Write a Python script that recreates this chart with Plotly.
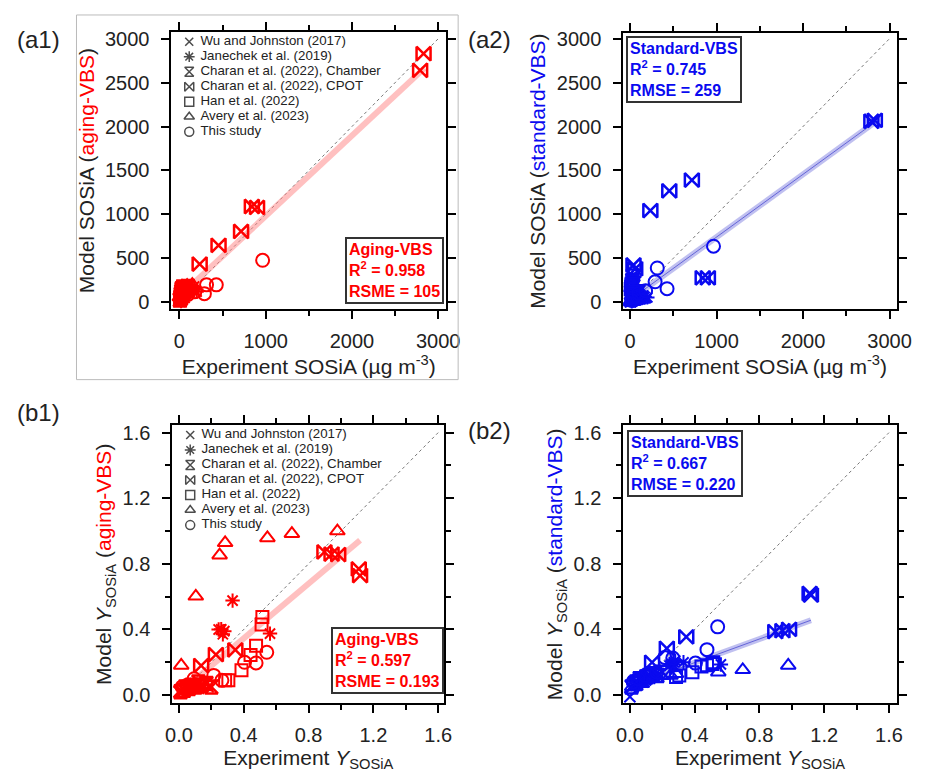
import plotly.graph_objects as go

# ---------------- data ----------------
studies = ["Wu and Johnston (2017)", "Janechek et al. (2019)", "Charan et al. (2022), Chamber",
           "Charan et al. (2022), CPOT", "Han et al. (2022)", "Avery et al. (2023)", "This study"]

# SOSiA mass (ug m-3): experiment, aging-VBS model, standard-VBS model
wu_mass_exp = [3, 8, 12, 18, 25, 32, 45, 60, 75, 95, 120, 150]
wu_mass_aging = [10, 25, 30, 45, 40, 70, 80, 95, 110, 120, 140, 160]
wu_mass_std = [4, 8, 12, 18, 20, 25, 30, 40, 45, 55, 60, 70]

jan_mass_exp = [20, 40, 60, 90, 110, 130, 150, 170, 200]
jan_mass_aging = [15, 30, 50, 110, 130, 140, 150, 180, 120]
jan_mass_std = [10, 20, 25, 40, 50, 60, 70, 60, 55]

chamber_mass_exp = [5, 10, 15, 20, 25, 30, 40, 50, 70, 100]
chamber_mass_aging = [30, 60, 90, 120, 150, 110, 170, 140, 160, 180]
chamber_mass_std = [60, 110, 160, 200, 250, 300, 180, 220, 90, 120]

cpot_mass_exp = [40, 60, 235, 454, 715, 840, 900, 2790, 2830]
cpot_mass_aging = [120, 150, 435, 648, 806, 1090, 1080, 2640, 2830]
cpot_mass_std = [424, 380, 1043, 1268, 1391, 278, 278, 2060, 2070]

han_mass_exp = [8, 12, 18, 25, 30, 35, 45]
han_mass_aging = [20, 40, 60, 90, 120, 160, 180]
han_mass_std = [150, 180, 210, 240, 120, 100, 80]

avery_mass_exp = [5, 15, 30, 40, 60, 90, 150]
avery_mass_aging = [60, 120, 180, 150, 170, 190, 200]
avery_mass_std = [2, 5, 8, 10, 15, 20, 30]

this_mass_exp = [20, 50, 100, 180, 290, 315, 428, 965]
this_mass_aging = [30, 60, 90, 120, 98, 198, 198, 478]
this_mass_std = [20, 60, 100, 130, 233, 390, 154, 638]

# SOSiA yield: experiment, aging-VBS model, standard-VBS model
wu_yield_exp = [0.0, 0.01, 0.02, 0.03, 0.04, 0.05, 0.06, 0.08, 0.10, 0.12, 0.15, 0.18]
wu_yield_aging = [0.02, 0.03, 0.04, 0.03, 0.05, 0.04, 0.06, 0.05, 0.07, 0.04, 0.06, 0.05]
wu_yield_std = [-0.01, 0.05, 0.06, 0.07, 0.06, 0.08, 0.09, 0.08, 0.10, 0.11, 0.12, 0.13]

jan_yield_exp = [0.05, 0.10, 0.15, 0.245, 0.261, 0.271, 0.28, 0.331, 0.562]
jan_yield_aging = [0.03, 0.05, 0.06, 0.40, 0.401, 0.371, 0.39, 0.576, 0.375]
jan_yield_std = [0.06, 0.09, 0.11, 0.18, 0.19, 0.20, 0.21, 0.20, 0.187]

chamber_yield_exp = [0.01, 0.03, 0.04, 0.06, 0.08, 0.10, 0.12, 0.14, 0.17, 0.20]
chamber_yield_aging = [0.02, 0.03, 0.05, 0.04, 0.06, 0.05, 0.08, 0.06, 0.07, 0.05]
chamber_yield_std = [0.05, 0.07, 0.08, 0.10, 0.09, 0.11, 0.12, 0.13, 0.12, 0.14]

cpot_yield_exp = [0.137, 0.228, 0.348, 0.898, 0.942, 0.983, 1.11, 1.118]
cpot_yield_aging = [0.18, 0.247, 0.275, 0.873, 0.86, 0.857, 0.769, 0.729]
cpot_yield_std = [0.20, 0.285, 0.355, 0.387, 0.393, 0.401, 0.62, 0.61]

han_yield_exp = [0.285, 0.305, 0.386, 0.442, 0.476, 0.51, 0.515]
han_yield_aging = [0.09, 0.09, 0.151, 0.245, 0.301, 0.431, 0.476]
han_yield_std = [0.11, 0.12, 0.14, 0.175, 0.182, 0.19, 0.20]

avery_yield_exp = [0.014, 0.104, 0.251, 0.285, 0.546, 0.697, 0.978]
avery_yield_aging = [0.181, 0.602, 0.853, 0.928, 0.958, 0.984, 1.0]
avery_yield_std = [0.05, 0.10, 0.12, 0.13, 0.14, 0.154, 0.181]

this_yield_exp = [0.02, 0.05, 0.094, 0.165, 0.215, 0.265, 0.405, 0.476, 0.542]
this_yield_aging = [0.05, 0.06, 0.10, 0.07, 0.12, 0.09, 0.20, 0.196, 0.261]
this_yield_std = [0.08, 0.10, 0.12, 0.14, 0.23, 0.226, 0.195, 0.277, 0.416]

# linear fits: [slope, intercept, x_start, x_end]
fit_mass_aging = [0.915, 66, 0, 2840]
fit_mass_std = [0.714, 28, 0, 2840]
fit_yield_aging = [0.833, 0.013, 0, 1.118]
fit_yield_std = [0.36, 0.054, 0, 1.118]

one_to_one_mass = [0, 3000]
one_to_one_yield = [0, 1.6]

stats_a1 = ["Aging-VBS", "R<sup>2</sup> = 0.958", "RSME = 105"]
stats_a2 = ["Standard-VBS", "R<sup>2</sup> = 0.745", "RMSE = 259"]
stats_b1 = ["Aging-VBS", "R<sup>2</sup> = 0.597", "RSME = 0.193"]
stats_b2 = ["Standard-VBS", "R<sup>2</sup> = 0.667", "RMSE = 0.220"]

mass_ticks = [0, 1000, 2000, 3000]
mass_yticks = [0, 500, 1000, 1500, 2000, 2500, 3000]
yield_ticks = [0.0, 0.4, 0.8, 1.2, 1.6]
yield_ticklabels = ["0.0", "0.4", "0.8", "1.2", "1.6"]

# ---------------- styles ----------------
RED = "#FF0000"
BLUE = "#0A0AF0"
FONT = "Arial, Liberation Sans, sans-serif"
symbols = ["x-thin", "asterisk", "hourglass-open", "bowtie-open", "square-open",
           "triangle-up-open", "circle-open"]
msizes = [11, 12, 13, 14, 12, 13, 13]
mwidths = [2, 2, 2.5, 2.5, 2, 2, 2]

mass_sets = [(wu_mass_exp, wu_mass_aging, wu_mass_std),
             (jan_mass_exp, jan_mass_aging, jan_mass_std),
             (chamber_mass_exp, chamber_mass_aging, chamber_mass_std),
             (cpot_mass_exp, cpot_mass_aging, cpot_mass_std),
             (han_mass_exp, han_mass_aging, han_mass_std),
             (avery_mass_exp, avery_mass_aging, avery_mass_std),
             (this_mass_exp, this_mass_aging, this_mass_std)]
yield_sets = [(wu_yield_exp, wu_yield_aging, wu_yield_std),
              (jan_yield_exp, jan_yield_aging, jan_yield_std),
              (chamber_yield_exp, chamber_yield_aging, chamber_yield_std),
              (cpot_yield_exp, cpot_yield_aging, cpot_yield_std),
              (han_yield_exp, han_yield_aging, han_yield_std),
              (avery_yield_exp, avery_yield_aging, avery_yield_std),
              (this_yield_exp, this_yield_aging, this_yield_std)]

fig = go.Figure()


def add_panel(xa, ya, sets, idx, color, fit, band, core, one):
    fig.add_trace(go.Scatter(x=one, y=one, mode="lines", xaxis=xa, yaxis=ya,
                             line=dict(color="#777777", width=1, dash="dot"),
                             showlegend=False, hoverinfo="skip"))
    fx = [fit[2], fit[3]]
    fy = [fit[0] * v + fit[1] for v in fx]
    fig.add_trace(go.Scatter(x=fx, y=fy, mode="lines", xaxis=xa, yaxis=ya,
                             line=dict(color=band, width=6), showlegend=False,
                             hoverinfo="skip"))
    if core:
        fig.add_trace(go.Scatter(x=fx, y=fy, mode="lines", xaxis=xa, yaxis=ya,
                                 line=dict(color=core, width=1), showlegend=False,
                                 hoverinfo="skip"))
    for k, s in enumerate(sets):
        fig.add_trace(go.Scatter(
            x=s[0], y=s[idx], mode="markers", xaxis=xa, yaxis=ya, name=studies[k],
            showlegend=False,
            marker=dict(symbol=symbols[k], size=msizes[k], color=color,
                        line=dict(color=color, width=mwidths[k]))))


add_panel("x", "y", mass_sets, 1, RED, fit_mass_aging, "rgba(255,130,130,0.5)", None, one_to_one_mass)
add_panel("x2", "y2", mass_sets, 2, BLUE, fit_mass_std, "rgba(130,130,225,0.5)", "rgba(40,40,200,0.6)", one_to_one_mass)
add_panel("x3", "y3", yield_sets, 1, RED, fit_yield_aging, "rgba(255,130,130,0.5)", None, one_to_one_yield)
add_panel("x4", "y4", yield_sets, 2, BLUE, fit_yield_std, "rgba(130,130,225,0.5)", "rgba(40,40,200,0.6)", one_to_one_yield)

# pseudo-legends (black symbols) on overlay axes measured in pixels from panel top-left
leg_rows = list(range(len(studies)))
for xa, ya in (("x5", "y5"), ("x6", "y6")):
    fig.add_trace(go.Scatter(
        x=[18.5] * len(studies), y=[10 + 15.2 * r for r in leg_rows], mode="markers",
        xaxis=xa, yaxis=ya, showlegend=False, hoverinfo="skip",
        marker=dict(symbol=symbols, size=[8, 9, 9, 9, 9, 9, 9], color="black",
                    line=dict(color="black", width=1.5))))
    fig.add_trace(go.Scatter(
        x=[30] * len(studies), y=[10 + 15.2 * r for r in leg_rows], mode="text",
        xaxis=xa, yaxis=ya, showlegend=False, hoverinfo="skip",
        text=studies, textposition="middle right",
        textfont=dict(family=FONT, size=13.3, color="#222")))

# page offset: plotly's html page has an 8px body margin
OX, OY = 8, 8
W, H = 920, 764


def px_dom_x(a, b):
    return [(a - OX) / W, (b - OX) / W]


def px_dom_y(top, bot):
    return [1 - (bot - OY) / H, 1 - (top - OY) / H]


def px_x(a):
    return (a - OX) / W


def px_y(b):
    return 1 - (b - OY) / H


def ax(**kw):
    d = dict(showline=True, linecolor="black", linewidth=1.5, mirror="allticks",
             ticks="outside", ticklen=8, tickwidth=1.5, tickcolor="black",
             showgrid=False, zeroline=False,
             tickfont=dict(family=FONT, size=20, color="#222"),
             title_font=dict(family=FONT, size=21, color="#222"))
    d.update(kw)
    return d


minor_mass = dict(ticks="outside", ticklen=5, tickwidth=1.5, tickcolor="black", dtick=500, tick0=0, showgrid=False)
minor_yield = dict(ticks="outside", ticklen=5, tickwidth=1.5, tickcolor="black", dtick=0.2, tick0=0, showgrid=False)

a1x, a1y = px_dom_x(168, 450), px_dom_y(27, 308)
a2x, a2y = px_dom_x(631, 911.5), px_dom_y(28, 308)
b1x, b1y = px_dom_x(169, 448), px_dom_y(425, 706.7)
b2x, b2y = px_dom_x(631, 911.5), px_dom_y(425, 706.7)

mass_xtitle = "Experiment SOSiA (µg m<sup>-3</sup>)"
yield_xtitle = "Experiment <i>Y</i><sub>SOSiA</sub>"
XS, YS = 5, 8  # tick-label standoffs
TS = 5  # y-title standoff

fig.update_layout(
    width=W, height=H, margin=dict(l=0, r=0, t=0, b=0),
    paper_bgcolor="white", plot_bgcolor="white", showlegend=False,
    font=dict(family=FONT, color="#222"),
    xaxis=ax(domain=a1x, anchor="y", range=[-95, 3095], tickvals=mass_ticks, minor=minor_mass,
             ticklabelstandoff=XS, title=dict(text=mass_xtitle, standoff=2)),
    yaxis=ax(domain=a1y, anchor="x", range=[-82, 3079], tickvals=mass_yticks, ticklabelstandoff=YS,
             title=dict(text="Model SOSiA (<span style='color:#FF0000'>aging-VBS</span>)", standoff=TS)),
    xaxis2=ax(domain=a2x, anchor="y2", range=[-80, 3085], tickvals=mass_ticks, minor=minor_mass,
              ticklabelstandoff=XS, title=dict(text=mass_xtitle, standoff=2)),
    yaxis2=ax(domain=a2y, anchor="x2", range=[-82, 3067], tickvals=mass_yticks, ticklabelstandoff=YS,
              title=dict(text="Model SOSiA (<span style='color:#0A0AF0'>standard-VBS</span>)", standoff=TS)),
    xaxis3=ax(domain=b1x, anchor="y3", range=[-0.042, 1.639], tickvals=yield_ticks,
              ticktext=yield_ticklabels, minor=minor_yield, ticklabelstandoff=XS,
              title=dict(text=yield_xtitle, standoff=2)),
    yaxis3=ax(domain=b1y, anchor="x3", range=[-0.051, 1.646], tickvals=yield_ticks,
              ticktext=yield_ticklabels, minor=minor_yield, ticklabelstandoff=YS,
              title=dict(text="Model <i>Y</i><sub>SOSiA</sub> (<span style='color:#FF0000'>aging-VBS</span>)", standoff=TS)),
    xaxis4=ax(domain=b2x, anchor="y4", range=[-0.042, 1.649], tickvals=yield_ticks,
              ticktext=yield_ticklabels, minor=minor_yield, ticklabelstandoff=XS,
              title=dict(text=yield_xtitle, standoff=2)),
    yaxis4=ax(domain=b2y, anchor="x4", range=[-0.051, 1.646], tickvals=yield_ticks,
              ticktext=yield_ticklabels, minor=minor_yield, ticklabelstandoff=YS,
              title=dict(text="Model <i>Y</i><sub>SOSiA</sub> (<span style='color:#0A0AF0'>standard-VBS</span>)", standoff=TS)),
    xaxis5=dict(overlaying="x", anchor="y5", range=[0, 282], visible=False, fixedrange=True),
    yaxis5=dict(overlaying="y", anchor="x5", range=[281, 0], visible=False, fixedrange=True),
    xaxis6=dict(overlaying="x3", anchor="y6", range=[0, 279], visible=False, fixedrange=True),
    yaxis6=dict(overlaying="y3", anchor="x6", range=[281.7, 0], visible=False, fixedrange=True),
)


def stat_box(lines, color, x, y, xanchor, yanchor):
    fig.add_annotation(
        text="<br>".join("<b>%s</b>" % s for s in lines), xref="paper", yref="paper",
        x=px_x(x), y=px_y(y), xanchor=xanchor, yanchor=yanchor, align="left", showarrow=False,
        font=dict(family=FONT, size=16, color=color), bgcolor="white",
        bordercolor="#333333", borderwidth=2, borderpad=2)


stat_box(stats_a1, RED, 448, 302, "right", "bottom")
stat_box(stats_a2, BLUE, 634, 31, "left", "top")
stat_box(stats_b1, RED, 447, 697, "right", "bottom")
stat_box(stats_b2, BLUE, 635, 430, "left", "top")

for lab, x, y in (("(a1)", 8, 35), ("(a2)", 470, 35), ("(b1)", 8, 412), ("(b2)", 470, 430)):
    fig.add_annotation(text=lab, xref="paper", yref="paper", x=px_x(x), y=px_y(y),
                       xanchor="left", yanchor="middle", showarrow=False,
                       font=dict(family=FONT, size=24, color="#222"))

fig.add_shape(type="rect", xref="paper", yref="paper", x0=px_x(71), x1=px_x(462),
              y0=px_y(379), y1=px_y(10), line=dict(color="#BBBBBB", width=1))

fig.write_html("out.html")
